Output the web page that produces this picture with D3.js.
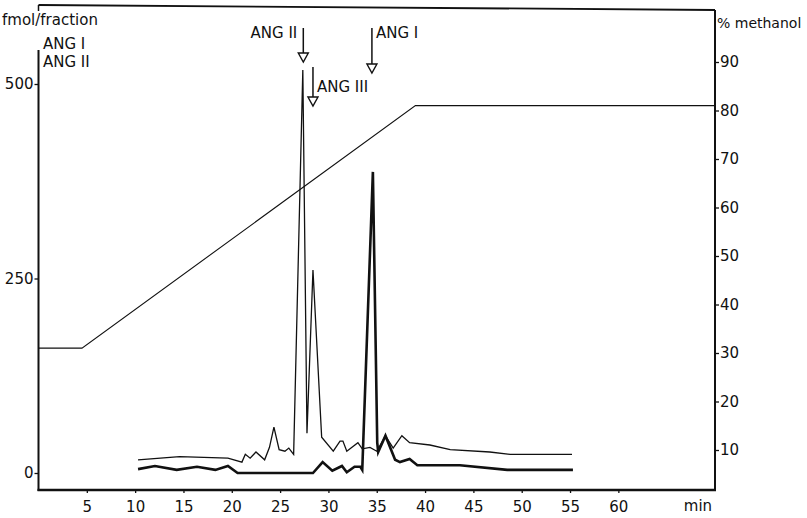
<!DOCTYPE html>
<html>
<head>
<meta charset="utf-8">
<script src="https://cdn.jsdelivr.net/npm/d3@7"></script>
<style>
  body { margin: 0; background: #fff; }
  text { font-family: "DejaVu Sans", sans-serif; fill: #111; }
</style>
</head>
<body>
<div id="chart"></div>
<script>
// elution times (min) and fmol/fraction
var timeThin = [10.3, 14.6, 19.6, 21.05, 21.4, 21.9, 22.5, 23.4, 23.9, 24.36, 24.9, 25.5, 25.9, 26.4,
  27.35, 27.78, 28.4, 29.3, 30.5, 31.2, 31.5, 31.9, 33.05, 33.5, 34.3, 35.0, 35.9, 36.7, 37.6, 38.4,
  40.5, 42.6, 46.7, 48.8, 55.2];
var fmolThin = [17, 21, 19, 14, 24, 19, 27, 17, 33, 59, 30, 28, 32, 24,
  518, 51, 261, 46, 28, 41, 41, 28, 39, 31, 33, 28, 48, 32, 48, 39,
  36, 30, 27, 24, 24];

var timeThick = [10.3, 12.05, 14.3, 16.4, 18.3, 19.6, 20.6, 28.4, 29.4, 30.4, 31.4, 31.9, 32.7, 33.3,
  33.5, 34.6, 35.05, 35.15, 35.9, 36.9, 37.4, 38.4, 39.2, 43.6, 48.5, 55.3];
var fmolThick = [5, 9, 4, 8, 4, 9, 0, 0, 14, 3, 9, 1, 8, 8,
  4, 387, 39, 27, 48, 17, 14, 18, 10, 10, 4, 4];

// methanol gradient
var methTime = [0, 4.5, 39, 70];
var methPct = [31, 31, 81, 81];

var xTicks = [5, 10, 15, 20, 25, 30, 35, 40, 45, 50, 55, 60];
var leftTicks = [0, 250, 500];
var rightTicks = [10, 20, 30, 40, 50, 60, 70, 80, 90];

var peakNames = ["ANG II", "ANG III", "ANG I"];
var peakTimes = [27.4, 28.4, 34.5];

var width = 807, height = 518;

var svg = d3.select('#chart')
  .append('svg')
  .attr('width', width)
  .attr('height', height);

var x = d3.scaleLinear().domain([0, 70]).range([38.5, 715]);
var yL = d3.scaleLinear().domain([0, 500]).range([473, 84]);
var yR = d3.scaleLinear().domain([0, 100]).range([498.5, 13.5]);

// frame lines
svg.append('line') // top (slightly tilted like the scan)
  .attr('x1', 38.5).attr('y1', 5).attr('x2', 715).attr('y2', 10)
  .attr('stroke', '#111').attr('stroke-width', 1.8);
svg.append('line')
  .attr('x1', 38.5).attr('y1', 5).attr('x2', 38.5).attr('y2', 11)
  .attr('stroke', '#111').attr('stroke-width', 1.5);
svg.append('line') // left
  .attr('x1', 38.5).attr('y1', 50).attr('x2', 38.5).attr('y2', 491)
  .attr('stroke', '#111').attr('stroke-width', 2);
svg.append('line') // right
  .attr('x1', 715).attr('y1', 10).attr('x2', 715).attr('y2', 491)
  .attr('stroke', '#111').attr('stroke-width', 2);
svg.append('line') // bottom
  .attr('x1', 37.5).attr('y1', 490).attr('x2', 716).attr('y2', 490)
  .attr('stroke', '#111').attr('stroke-width', 2.5);

// axes
var gx = svg.append('g')
  .attr('transform', 'translate(0,490)')
  .call(d3.axisBottom(x).tickValues(xTicks).tickSize(3).tickPadding(8));
var gl = svg.append('g')
  .attr('transform', 'translate(38.5,0)')
  .call(d3.axisLeft(yL).tickValues(leftTicks).tickSize(4).tickPadding(1));
var gr = svg.append('g')
  .attr('transform', 'translate(715,0)')
  .call(d3.axisRight(yR).tickValues(rightTicks).tickSize(4).tickPadding(1));

[gx, gl, gr].forEach(function(g){
  g.select('.domain').remove();
  g.selectAll('line').attr('stroke', '#111').attr('stroke-width', 1.3);
  g.selectAll('text').attr('font-size', 15).attr('fill', '#111')
    .style('font-family', '"DejaVu Sans", sans-serif');
});

svg.append('text').attr('x', 698).attr('y', 511).attr('text-anchor', 'middle')
  .attr('font-size', 15).text('min');
svg.append('text').attr('x', 2).attr('y', 25).attr('font-size', 15).text('fmol/fraction');
svg.append('text').attr('x', 43).attr('y', 49).attr('font-size', 15).text('ANG I');
svg.append('text').attr('x', 43).attr('y', 67).attr('font-size', 15).text('ANG II');
svg.append('text').attr('x', 717).attr('y', 28).attr('font-size', 14).text('% methanol');

// methanol gradient
var methLine = d3.line()
  .x(function(d, i){ return x(methTime[i]) })
  .y(function(d){ return yR(d) });
svg.append('path')
  .datum(methPct)
  .attr('d', methLine)
  .attr('fill', 'none')
  .attr('stroke', '#111')
  .attr('stroke-width', 1.1);

// traces
var thinLine = d3.line()
  .x(function(d, i){ return x(timeThin[i]) })
  .y(function(d){ return yL(d) });
var thickLine = d3.line()
  .x(function(d, i){ return x(timeThick[i]) })
  .y(function(d){ return yL(d) });

svg.append('path')
  .datum(fmolThin)
  .attr('d', thinLine)
  .attr('fill', 'none')
  .attr('stroke', '#111')
  .attr('stroke-width', 1.3)
  .attr('stroke-linejoin', 'miter');

svg.append('path')
  .datum(fmolThick)
  .attr('d', thickLine)
  .attr('fill', 'none')
  .attr('stroke', '#111')
  .attr('stroke-width', 2.6)
  .attr('stroke-linejoin', 'miter');

// peak arrows: [top, bottom of shaft, label side, label baseline]
var arrowLayout = [
  {y0: 28, y1: 53, side: 'left', ty: 38},
  {y0: 67, y1: 97, side: 'right', ty: 92},
  {y0: 28, y1: 64, side: 'right', ty: 38}
];

peakNames.forEach(function(name, i){
  var a = arrowLayout[i];
  var px = x(peakTimes[i]);
  svg.append('line')
    .attr('x1', px).attr('y1', a.y0).attr('x2', px).attr('y2', a.y1)
    .attr('stroke', '#111').attr('stroke-width', 1.5);
  svg.append('path')
    .attr('d', 'M' + (px - 5) + ',' + a.y1 + 'L' + (px + 5) + ',' + a.y1 + 'L' + px + ',' + (a.y1 + 9) + 'Z')
    .attr('fill', '#fff')
    .attr('stroke', '#111')
    .attr('stroke-width', 1.4);
  svg.append('text')
    .attr('x', a.side == 'left' ? px - 6 : px + 4)
    .attr('y', a.ty)
    .attr('text-anchor', a.side == 'left' ? 'end' : 'start')
    .attr('font-size', 15)
    .text(name);
});
</script>
</body>
</html>
